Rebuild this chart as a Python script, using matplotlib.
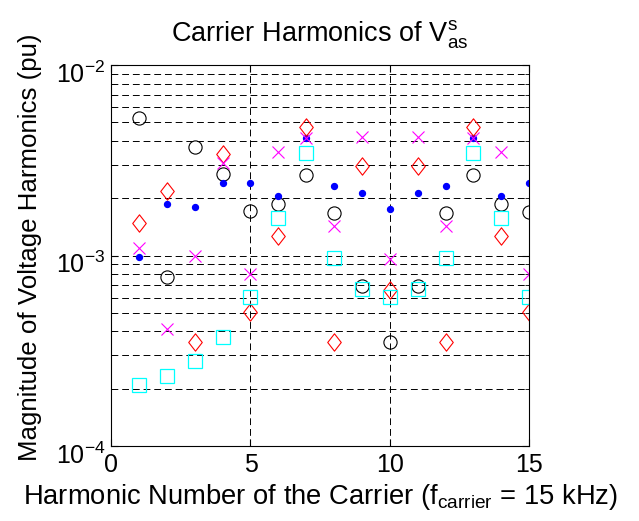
import numpy as np
import matplotlib
matplotlib.use('Agg')
import matplotlib.pyplot as plt
from matplotlib.path import Path
from matplotlib.transforms import ScaledTranslation
from matplotlib.ticker import LogLocator, FixedFormatter, FixedLocator, NullFormatter

plt.rcParams['font.family'] = 'Liberation Sans'
plt.rcParams['mathtext.fontset'] = 'custom'
plt.rcParams['mathtext.rm'] = 'Liberation Sans'
plt.rcParams['mathtext.it'] = 'Liberation Sans'

harmonic = np.arange(1, 16)

# magnitude of each carrier harmonic (pu), one array per modulation case
circle_vals = [5.25e-3, 7.72e-4, 3.72e-3, 2.67e-3, 1.72e-3, 1.86e-3, 2.65e-3, 1.67e-3,
               6.92e-4, 3.52e-4, 6.92e-4, 1.67e-3, 2.65e-3, 1.86e-3, 1.70e-3]
dot_vals = [9.8e-4, 1.86e-3, 1.79e-3, 2.41e-3, 2.41e-3, 2.06e-3, 4.12e-3, 2.31e-3,
            2.13e-3, 1.75e-3, 2.13e-3, 2.31e-3, 4.12e-3, 2.06e-3, 2.41e-3]
diamond_vals = [1.49e-3, 2.18e-3, 3.52e-4, 3.40e-3, 5.06e-4, 1.27e-3, 4.74e-3, 3.52e-4,
                2.95e-3, 6.57e-4, 2.95e-3, 3.52e-4, 4.74e-3, 1.27e-3, 5.06e-4]
cross_vals = [1.10e-3, 4.13e-4, 9.95e-4, 3.05e-3, 7.97e-4, 3.50e-3, 4.12e-3, 1.43e-3,
              4.20e-3, 9.56e-4, 4.20e-3, 1.43e-3, 4.12e-3, 3.50e-3, 8.04e-4]
square_vals = [2.10e-4, 2.32e-4, 2.78e-4, 3.73e-4, 6.06e-4, 1.58e-3, 3.46e-3, 9.76e-4,
               6.65e-4, 6.06e-4, 6.65e-4, 9.76e-4, 3.46e-3, 1.58e-3, 6.06e-4]

# MATLAB-style diamond: a bit taller than wide
diamond = Path([(0, 1), (0.78, 0), (0, -1), (-0.78, 0), (0, 1)],
               [Path.MOVETO, Path.LINETO, Path.LINETO, Path.LINETO, Path.CLOSEPOLY])

fig = plt.figure(figsize=(6.39, 5.21), dpi=100)
ax = fig.add_axes([0.174, 0.144, 0.654, 0.731])

ax.plot(harmonic, circle_vals, 'o', mfc='none', mec='black', ms=9.5, mew=0.8)
ax.plot(harmonic, dot_vals, '.', color='blue', ms=8.5)
ax.plot(harmonic, diamond_vals, marker=diamond, ls='none', mfc='none', mec='red', ms=12.5, mew=0.8)
ax.plot(harmonic, cross_vals, 'x', color='magenta', ms=9, mew=0.8)
ax.plot(harmonic, square_vals, 's', mfc='none', mec='cyan', ms=9.5, mew=0.9)

ax.set_yscale('log')
ax.set_xlim(0, 15)
ax.set_ylim(1e-4, 1e-2)
ax.set_xticks([0, 5, 10, 15])
ax.yaxis.set_major_locator(FixedLocator([1e-4, 1e-3, 1e-2]))
ax.yaxis.set_major_formatter(FixedFormatter([r'$10^{-4}$', r'$10^{-3}$', r'$10^{-2}$']))
ax.yaxis.set_minor_locator(LogLocator(base=10, subs=np.arange(2, 10)))
ax.yaxis.set_minor_formatter(NullFormatter())

grid_style = dict(color='black', linestyle=(0, (7, 4)), linewidth=0.7)
ax.grid(True, which='major', axis='both', **grid_style)
ax.grid(True, which='minor', axis='y', **grid_style)

ax.tick_params(which='both', direction='in', top=True, right=True, labelsize=18)
ax.tick_params(which='major', length=5, pad=5)
ax.tick_params(which='minor', length=3)
ax.tick_params(axis='y', pad=4)

# drop the decade labels a little so the "10" sits just under its tick
shift = ScaledTranslation(0, -5 / 72, fig.dpi_scale_trans)
for tick in ax.yaxis.get_major_ticks():
    tick.label1.set_transform(tick.label1.get_transform() + shift)

ax.set_title(r'Carrier Harmonics of $\mathrm{V}_{\mathrm{as}}^{\mathrm{s}}$', fontsize=19.5, pad=17)
ax.set_xlabel(r'Harmonic Number of the Carrier ($\mathrm{f}_{\mathrm{carrier}}$ = 15 kHz)',
              fontsize=19.7, labelpad=4)
ax.set_ylabel('Magnitude of Voltage Harmonics (pu)', fontsize=18.6)
ax.yaxis.set_label_coords(-0.165, 0.522)

fig.savefig('out.png', dpi=100)
